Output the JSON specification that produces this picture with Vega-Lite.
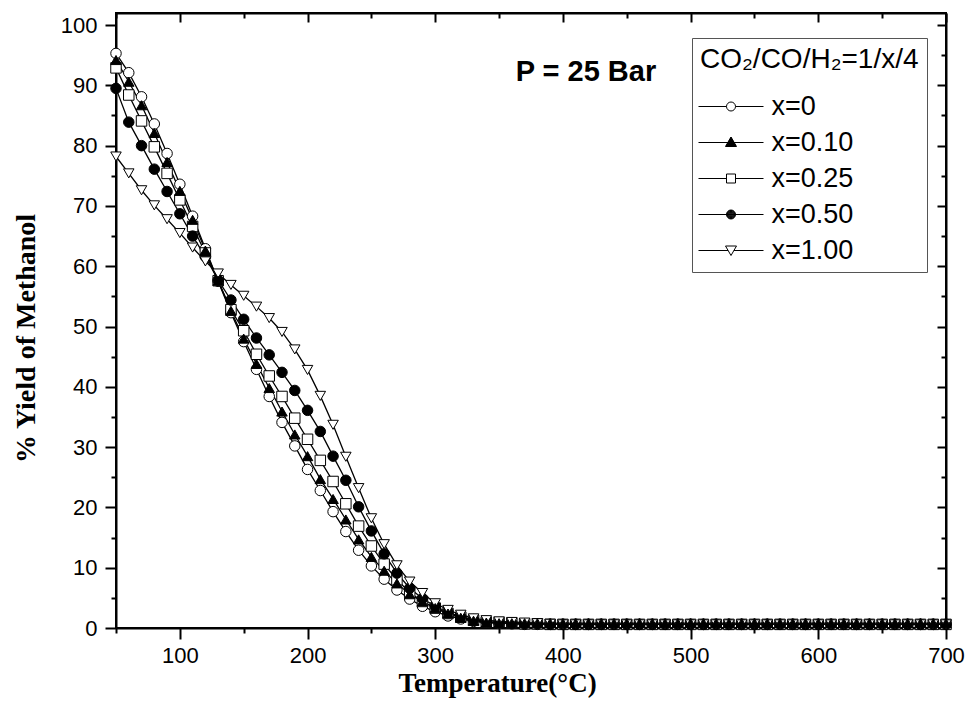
{
  "$schema": "https://vega.github.io/schema/vega-lite/v6.json",
  "width": 830,
  "height": 615,
  "autosize": "none",
  "padding": {"left": 116, "top": 13, "right": 26, "bottom": 83},
  "background": "white",
  "config": {"view": {"stroke": "black", "strokeWidth": 2}, "font": "Liberation Sans"},
  "data": {"values": [
    {"T":50,"a":95.3,"b":94.2,"c":92.9,"d":89.5,"e":78.2},
    {"T":60,"a":92.1,"b":90.6,"c":88.4,"d":83.9,"e":75.4},
    {"T":70,"a":88.1,"b":86.7,"c":84.1,"d":80.0,"e":72.6},
    {"T":80,"a":83.6,"b":82.1,"c":79.8,"d":76.1,"e":70.1},
    {"T":90,"a":78.7,"b":77.3,"c":75.4,"d":72.4,"e":67.8},
    {"T":100,"a":73.6,"b":72.5,"c":71.0,"d":68.7,"e":65.5},
    {"T":110,"a":68.3,"b":67.7,"c":66.6,"d":65.0,"e":63.1},
    {"T":120,"a":62.9,"b":62.6,"c":62.2,"d":61.6,"e":60.8},
    {"T":130,"a":57.5,"b":57.6,"c":57.6,"d":57.7,"e":58.8},
    {"T":140,"a":52.3,"b":52.6,"c":52.8,"d":54.4,"e":56.9},
    {"T":150,"a":47.5,"b":48.0,"c":49.3,"d":51.2,"e":55.1},
    {"T":160,"a":42.9,"b":43.8,"c":45.4,"d":48.1,"e":53.3},
    {"T":170,"a":38.4,"b":39.8,"c":41.8,"d":45.3,"e":51.4},
    {"T":180,"a":34.1,"b":35.9,"c":38.4,"d":42.4,"e":49.1},
    {"T":190,"a":30.2,"b":32.1,"c":34.8,"d":39.4,"e":46.2},
    {"T":200,"a":26.3,"b":28.5,"c":31.3,"d":36.1,"e":42.8},
    {"T":210,"a":22.8,"b":24.7,"c":27.8,"d":32.6,"e":38.5},
    {"T":220,"a":19.3,"b":21.4,"c":24.3,"d":28.5,"e":33.7},
    {"T":230,"a":16.0,"b":18.0,"c":20.6,"d":24.5,"e":28.4},
    {"T":240,"a":12.9,"b":14.7,"c":16.9,"d":20.1,"e":23.2},
    {"T":250,"a":10.3,"b":11.8,"c":13.6,"d":16.1,"e":18.2},
    {"T":260,"a":8.1,"b":9.5,"c":10.6,"d":12.3,"e":13.9},
    {"T":270,"a":6.3,"b":7.4,"c":8.0,"d":9.1,"e":10.4},
    {"T":280,"a":4.8,"b":5.6,"c":5.9,"d":6.6,"e":7.7},
    {"T":290,"a":3.6,"b":4.4,"c":4.4,"d":4.9,"e":5.8},
    {"T":300,"a":2.7,"b":3.3,"c":3.3,"d":3.6,"e":4.1},
    {"T":310,"a":2.0,"b":2.4,"c":2.4,"d":2.6,"e":3.0},
    {"T":320,"a":1.5,"b":1.7,"c":1.8,"d":1.9,"e":2.2},
    {"T":330,"a":1.1,"b":1.2,"c":1.3,"d":1.4,"e":1.6},
    {"T":340,"a":0.9,"b":0.9,"c":1.0,"d":1.1,"e":1.3},
    {"T":350,"a":0.8,"b":0.8,"c":0.9,"d":0.9,"e":1.1},
    {"T":360,"a":0.7,"b":0.8,"c":0.8,"d":0.8,"e":1.0},
    {"T":370,"a":0.6,"b":0.8,"c":0.7,"d":0.7,"e":0.9},
    {"T":380,"a":0.6,"b":0.8,"c":0.7,"d":0.7,"e":0.8},
    {"T":390,"a":0.6,"b":0.8,"c":0.6,"d":0.6,"e":0.7},
    {"T":400,"a":0.6,"b":0.8,"c":0.6,"d":0.6,"e":0.6},
    {"T":410,"a":0.6,"b":0.8,"c":0.6,"d":0.6,"e":0.6},
    {"T":420,"a":0.6,"b":0.8,"c":0.6,"d":0.6,"e":0.6},
    {"T":430,"a":0.6,"b":0.8,"c":0.6,"d":0.6,"e":0.6},
    {"T":440,"a":0.6,"b":0.8,"c":0.6,"d":0.6,"e":0.6},
    {"T":450,"a":0.6,"b":0.8,"c":0.6,"d":0.6,"e":0.6},
    {"T":460,"a":0.6,"b":0.8,"c":0.6,"d":0.6,"e":0.6},
    {"T":470,"a":0.6,"b":0.8,"c":0.6,"d":0.6,"e":0.6},
    {"T":480,"a":0.6,"b":0.8,"c":0.6,"d":0.6,"e":0.6},
    {"T":490,"a":0.6,"b":0.8,"c":0.6,"d":0.6,"e":0.6},
    {"T":500,"a":0.6,"b":0.8,"c":0.6,"d":0.6,"e":0.6},
    {"T":510,"a":0.6,"b":0.8,"c":0.6,"d":0.6,"e":0.6},
    {"T":520,"a":0.6,"b":0.8,"c":0.6,"d":0.6,"e":0.6},
    {"T":530,"a":0.6,"b":0.8,"c":0.6,"d":0.6,"e":0.6},
    {"T":540,"a":0.6,"b":0.8,"c":0.6,"d":0.6,"e":0.6},
    {"T":550,"a":0.6,"b":0.8,"c":0.6,"d":0.6,"e":0.6},
    {"T":560,"a":0.6,"b":0.8,"c":0.6,"d":0.6,"e":0.6},
    {"T":570,"a":0.6,"b":0.8,"c":0.6,"d":0.6,"e":0.6},
    {"T":580,"a":0.6,"b":0.8,"c":0.6,"d":0.6,"e":0.6},
    {"T":590,"a":0.6,"b":0.8,"c":0.6,"d":0.6,"e":0.6},
    {"T":600,"a":0.6,"b":0.8,"c":0.6,"d":0.6,"e":0.6},
    {"T":610,"a":0.6,"b":0.8,"c":0.6,"d":0.6,"e":0.6},
    {"T":620,"a":0.6,"b":0.8,"c":0.6,"d":0.6,"e":0.6},
    {"T":630,"a":0.6,"b":0.8,"c":0.6,"d":0.6,"e":0.6},
    {"T":640,"a":0.6,"b":0.8,"c":0.6,"d":0.6,"e":0.6},
    {"T":650,"a":0.6,"b":0.8,"c":0.6,"d":0.6,"e":0.6},
    {"T":660,"a":0.6,"b":0.8,"c":0.6,"d":0.6,"e":0.6},
    {"T":670,"a":0.6,"b":0.8,"c":0.6,"d":0.6,"e":0.6},
    {"T":680,"a":0.6,"b":0.8,"c":0.6,"d":0.6,"e":0.6},
    {"T":690,"a":0.6,"b":0.8,"c":0.6,"d":0.6,"e":0.6},
    {"T":700,"a":0.6,"b":0.8,"c":0.6,"d":0.6,"e":0.6}
  ]},
  "transform": [{"fold": ["a", "c", "d", "e", "b"], "as": ["s", "v"]}],
  "layer": [
    {
      "mark": {"type": "line", "color": "black", "strokeWidth": 1.3},
      "encoding": {
        "x": {"field": "T", "type": "quantitative", "scale": {"domain": [50, 700], "nice": false, "zero": false},
          "axis": {"orient": "bottom", "values": [50,100,150,200,250,300,350,400,450,500,550,600,650,700],
            "labelExpr": "datum.value % 100 === 0 ? datum.label : ''",
            "labelFont": "Liberation Sans", "labelFontSize": 22, "labelColor": "black", "labelPadding": 6,
            "labelFlush": false, "labelOverlap": false, "labelBound": false,
            "tickSize": {"condition": {"test": "datum.value % 100 === 0", "value": 11}, "value": 5},
            "tickWidth": 2, "tickColor": "black", "domainColor": "black", "domainWidth": 2, "grid": false,
            "title": "Temperature(°C)", "titleFont": "Liberation Serif", "titleFontSize": 27, "titleFontWeight": "bold",
            "titleColor": "black", "titleX": 381, "titleY": 63, "titleBaseline": "alphabetic", "titleAlign": "center"}},
        "y": {"field": "v", "type": "quantitative", "scale": {"domain": [0, 102], "nice": false},
          "axis": {"orient": "left", "values": [0,5,10,15,20,25,30,35,40,45,50,55,60,65,70,75,80,85,90,95,100],
            "labelExpr": "datum.value % 10 === 0 ? datum.label : ''",
            "labelFont": "Liberation Sans", "labelFontSize": 22, "labelColor": "black", "labelPadding": 8,
            "labelFlush": false, "labelOverlap": false, "labelBound": false,
            "tickSize": {"condition": {"test": "datum.value % 10 === 0", "value": 11}, "value": 5},
            "tickWidth": 2, "tickColor": "black", "domainColor": "black", "domainWidth": 2, "grid": false,
            "title": "% Yield of Methanol", "titleFont": "Liberation Serif", "titleFontSize": 28, "titleFontWeight": "bold",
            "titleColor": "black", "titleX": -90, "titleY": 325, "titleAngle": -90, "titleBaseline": "middle", "titleAlign": "center"}},
        "detail": {"field": "s", "type": "nominal"}
      }
    },
    {
      "mark": {"type": "point", "filled": true, "stroke": "black", "strokeWidth": 1, "size": 110, "opacity": 1},
      "encoding": {
        "x": {"field": "T", "type": "quantitative", "axis": null},
        "y": {"field": "v", "type": "quantitative", "axis": null},
        "shape": {"field": "s", "type": "nominal", "legend": null,
          "scale": {"domain": ["a", "b", "c", "d", "e"], "range": ["circle", "triangle-up", "square", "circle", "triangle-down"]}},
        "fill": {"field": "s", "type": "nominal", "legend": null,
          "scale": {"domain": ["a", "b", "c", "d", "e"], "range": ["white", "black", "white", "black", "white"]}}
      }
    },
    {
      "transform": [{"filter": "datum.T > 5000"}],
      "mark": {"type": "point", "filled": false, "size": 100, "color": "black", "strokeWidth": 1, "opacity": 1},
      "encoding": {
        "x": {"field": "T", "type": "quantitative", "axis": null},
        "y": {"field": "v", "type": "quantitative", "axis": null},
        "shape": {"field": "s", "type": "nominal",
          "scale": {"domain": ["a", "b", "c", "d", "e"], "range": [
            "M-6.5,0H-0.9M0.9,0H6.5M0.9,0A0.9,0.9,0,1,1,-0.9,0A0.9,0.9,0,1,1,0.9,0Z",
            "M-6.5,0H6.5M0,-1.1L1.1,0.8L-1.1,0.8ZM-0.06,-1.0H0.06M-0.12,-0.9H0.12M-0.17,-0.8H0.17M-0.23,-0.7H0.23M-0.29,-0.6H0.29M-0.35,-0.5H0.35M-0.41,-0.4H0.41M-0.46,-0.3H0.46M-0.52,-0.2H0.52M-0.58,-0.1H0.58M-0.7,0.1H0.7M-0.75,0.2H0.75M-0.81,0.3H0.81M-0.87,0.4H0.87M-0.93,0.5H0.93M-0.98,0.6H0.98M-1.04,0.7H1.04",
            "M-6.5,0H-0.9M0.9,0H6.5M-0.9,-0.9H0.9V0.9H-0.9Z",
            "M-6.5,0H6.5M0.9,0A0.9,0.9,0,1,1,-0.9,0A0.9,0.9,0,1,1,0.9,0M0.8,0A0.8,0.8,0,1,1,-0.8,0A0.8,0.8,0,1,1,0.8,0M0.7,0A0.7,0.7,0,1,1,-0.7,0A0.7,0.7,0,1,1,0.7,0M0.6,0A0.6,0.6,0,1,1,-0.6,0A0.6,0.6,0,1,1,0.6,0M0.5,0A0.5,0.5,0,1,1,-0.5,0A0.5,0.5,0,1,1,0.5,0M0.4,0A0.4,0.4,0,1,1,-0.4,0A0.4,0.4,0,1,1,0.4,0M0.3,0A0.3,0.3,0,1,1,-0.3,0A0.3,0.3,0,1,1,0.3,0M0.2,0A0.2,0.2,0,1,1,-0.2,0A0.2,0.2,0,1,1,0.2,0M0.1,0A0.1,0.1,0,1,1,-0.1,0A0.1,0.1,0,1,1,0.1,0",
            "M-6.5,0H-0.58M0.58,0H6.5M-1.1,-0.9H1.1L0,1.0Z"]},
          "legend": {"orient": "none", "legendX": 576, "legendY": 25,
            "title": "CO₂/CO/H₂=1/x/4", "titleFont": "Liberation Sans", "titleFontSize": 28, "titleFontWeight": "normal",
            "titleColor": "black", "titlePadding": 19, "titleLimit": 500,
            "labelFont": "Liberation Sans", "labelFontSize": 27, "labelColor": "black", "labelLimit": 300,
            "labelExpr": "datum.value === 'a' ? 'x=0' : datum.value === 'b' ? 'x=0.10' : datum.value === 'c' ? 'x=0.25' : datum.value === 'd' ? 'x=0.50' : 'x=1.00'",
            "symbolSize": 100, "symbolStrokeColor": "black", "symbolStrokeWidth": 1, "symbolFillColor": "white",
            "symbolOffset": 17.5, "labelOffset": 27, "rowPadding": 8, "padding": 8,
            "strokeColor": "#555", "fillColor": "white"}}
      }
    },
    {
      "data": {"values": [{}]},
      "mark": {"type": "text", "text": "P = 25 Bar", "font": "Liberation Sans", "fontSize": 29, "fontWeight": "bold", "color": "black", "align": "center", "baseline": "middle"},
      "encoding": {
        "x": {"datum": 418, "type": "quantitative",
          "axis": {"orient": "top", "values": [50,100,150,200,250,300,350,400,450,500,550,600,650,700], "labels": false, "title": null,
            "tickSize": {"condition": {"test": "datum.value % 100 === 0", "value": -9}, "value": -5},
            "tickWidth": 2, "tickColor": "black", "domainColor": "black", "domainWidth": 2, "grid": false}},
        "y": {"datum": 92.2, "type": "quantitative",
          "axis": {"orient": "right", "values": [0,5,10,15,20,25,30,35,40,45,50,55,60,65,70,75,80,85,90,95,100], "labels": false, "title": null,
            "tickSize": {"condition": {"test": "datum.value % 10 === 0", "value": -9}, "value": -5},
            "tickWidth": 2, "tickColor": "black", "domainColor": "black", "domainWidth": 2, "grid": false}}
      }
    }
  ],
  "resolve": {"axis": {"x": "independent", "y": "independent"}, "scale": {"shape": "independent"}}
}
